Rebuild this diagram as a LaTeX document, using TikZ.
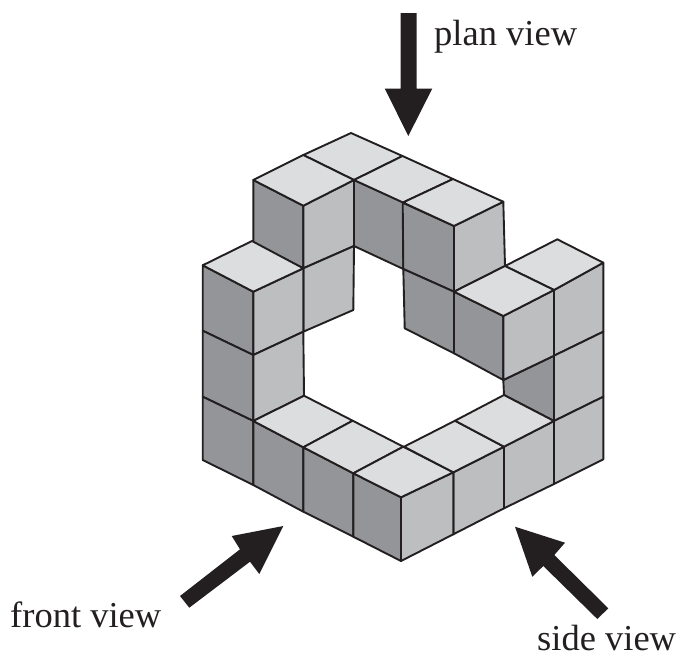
\documentclass[tikz,border=0pt]{standalone}
\usepackage{fontspec}
\setmainfont{Liberation Serif}
\definecolor{ink}{HTML}{231F20}
\definecolor{topface}{HTML}{DCDDDE}
\definecolor{leftface}{HTML}{939598}
\definecolor{rightface}{HTML}{BCBEC0}
\tikzset{
  facetop/.style={fill=topface,draw=ink,line width=1.9pt,line join=round},
  faceleft/.style={fill=leftface,draw=ink,line width=1.9pt,line join=round},
  faceright/.style={fill=rightface,draw=ink,line width=1.9pt,line join=round},
  viewarrow/.style={fill=ink,draw=none},
  viewlabel/.style={anchor=base west,inner sep=0pt,text=ink,font=\fontsize{36.5}{40}\selectfont}
}
\begin{document}
\begin{tikzpicture}[x=1pt,y=-1pt]
\useasboundingbox (0,0) rectangle (682,657);
% dark (front-left) faces
\path[faceleft] (253.3,180)--(303.3,205.7)--(303.3,268.3)--(253.3,243)--cycle;
\path[faceleft] (354,180)--(403.3,202.3)--(403.3,269)--(354,246)--cycle;
\path[faceleft] (402.7,202.7)--(454,226)--(454,291.7)--(403.3,269)--cycle;
\path[faceleft] (403.3,269)--(454,291.7)--(454,353.3)--(404.7,328.3)--cycle;
\path[faceleft] (454,291.7)--(503.3,316)--(503.3,380)--(454,353.3)--cycle;
\path[faceleft] (503.3,380)--(554,355.7)--(554,421)--(504,395)--cycle;
\path[faceleft] (202.7,265.3)--(253.3,291.7)--(253.3,355)--(202.7,330.7)--cycle;
\path[faceleft] (202.7,330.7)--(253.3,355)--(253.3,421)--(202.7,396.7)--cycle;
\path[faceleft] (202.7,396.7)--(253.3,421)--(253.3,485)--(202.7,460)--cycle;
\path[faceleft] (253.3,421)--(303.3,447.3)--(303.3,511.7)--(253.3,485)--cycle;
\path[faceleft] (303.3,447.3)--(353.3,473.3)--(353.3,536.7)--(303.3,511.7)--cycle;
\path[faceleft] (353.3,473.3)--(401,497.3)--(401,561)--(353.3,536.7)--cycle;
% mid (front-right) faces
\path[faceright] (303.3,205.7)--(354,180)--(354,246)--(303.3,268.3)--cycle;
\path[faceright] (303.3,268.3)--(354,246)--(353.3,310)--(303.3,331.7)--cycle;
\path[faceright] (253.3,291.7)--(303.3,268.3)--(303.3,331.7)--(253.3,355)--cycle;
\path[faceright] (253.3,355)--(303.3,331.7)--(304,395.7)--(253.3,421)--cycle;
\path[faceright] (454,226)--(503.3,201.7)--(505,266)--(454,291.7)--cycle;
\path[faceright] (503.3,316)--(554,290)--(554,355.7)--(503.3,380)--cycle;
\path[faceright] (554,290)--(603.3,262.7)--(603.3,331.7)--(554,355.7)--cycle;
\path[faceright] (554,355.7)--(603.3,331.7)--(603.3,396.7)--(554,421)--cycle;
\path[faceright] (554,421)--(603.3,396.7)--(603.3,459.3)--(554,484)--cycle;
\path[faceright] (504,446.7)--(554,421)--(554,484)--(504,508.3)--cycle;
\path[faceright] (453.3,472.3)--(504,446.7)--(504,508.3)--(453.3,534.3)--cycle;
\path[faceright] (401,497.3)--(453.3,472.3)--(453.3,534.3)--(401,561)--cycle;
% top faces
\path[facetop] (351,133)--(402.5,156)--(354,180)--(303.3,155)--cycle;
\path[facetop] (303.3,155)--(354,180)--(303.3,205.7)--(253.3,180)--cycle;
\path[facetop] (402.5,156)--(453,179)--(403,202.5)--(354,180)--cycle;
\path[facetop] (453,179)--(503.3,201.7)--(454,226)--(403,202.5)--cycle;
\path[facetop] (252,241)--(303.3,268.3)--(253.3,291.7)--(202.7,265.3)--cycle;
\path[facetop] (557.3,239.3)--(603.3,262.7)--(554,290)--(505,266)--cycle;
\path[facetop] (505,266)--(554,290)--(503.3,316)--(454,291.7)--cycle;
\path[facetop] (304,395.7)--(352.7,420.7)--(303.3,447.3)--(253.3,421)--cycle;
\path[facetop] (352.7,420.7)--(403.3,446.7)--(353.3,473.3)--(303.3,447.3)--cycle;
\path[facetop] (403.3,446.7)--(453.3,472.3)--(401,497.3)--(353.3,473.3)--cycle;
\path[facetop] (455,420.7)--(504,446.7)--(453.3,472.3)--(404,446.7)--cycle;
\path[facetop] (504,395)--(554,421)--(504,446.7)--(455,420.7)--cycle;
% view arrows
\path[viewarrow] (400.7,13)--(416.7,13)--(416.7,88.5)--(432.3,88.5)--(408.3,136)--(384.7,88.5)--(400.7,88.5)--cycle;
\path[viewarrow] (180,596)--(240,549.3)--(231.7,536)--(283.3,526)--(259.3,574)--(250,561.7)--(189.3,607.7)--cycle;
\path[viewarrow] (515,526.7)--(565,542.7)--(554.3,555)--(608.3,608.3)--(597.3,619)--(543.3,566)--(532.3,576.7)--cycle;
% labels
\node[viewlabel] (plan) at (434,45) {plan view};
\node[viewlabel] (front) at (10,627) {front view};
\node[viewlabel] (side) at (537,650) {side view};
\end{tikzpicture}
\end{document}
